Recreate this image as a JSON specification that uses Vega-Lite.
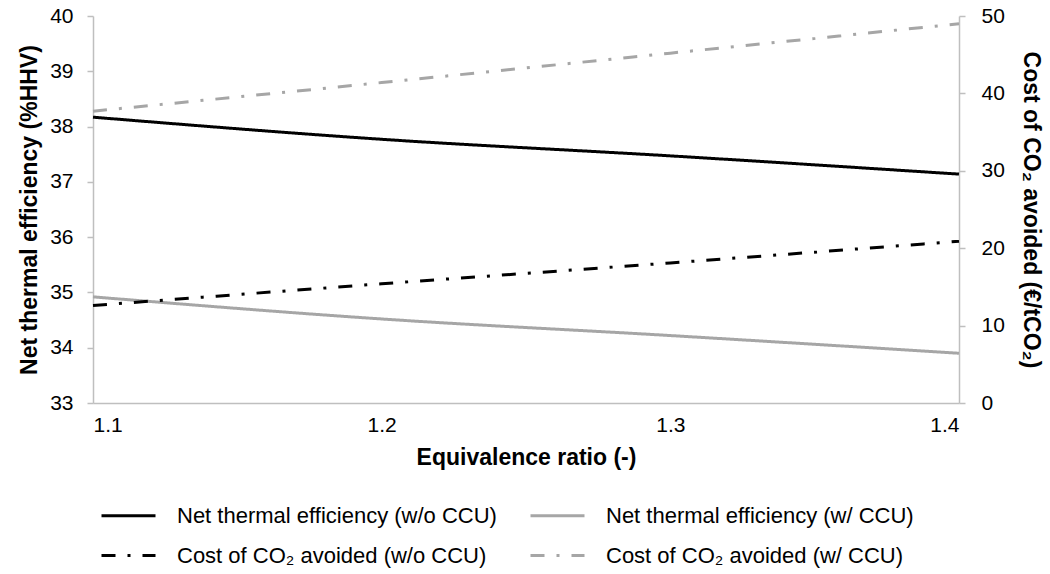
{
  "$schema": "https://vega.github.io/schema/vega-lite/v6.json",
  "width": 866,
  "height": 387,
  "autosize": {"type": "none"},
  "padding": {"left": 93, "top": 16, "right": 91, "bottom": 171},
  "background": "white",
  "config": {
    "view": {"stroke": null},
    "font": "Liberation Sans",
    "axis": {
      "grid": false,
      "domainColor": "#BFBFBF",
      "domainWidth": 1.5,
      "tickColor": "#BFBFBF",
      "tickWidth": 1.5,
      "labelColor": "black",
      "titleColor": "black",
      "labelFont": "Liberation Sans",
      "titleFont": "Liberation Sans",
      "labelFontSize": 21,
      "titleFontSize": 23,
      "titleFontWeight": "bold"
    },
    "legend": {
      "labelFont": "Liberation Sans",
      "labelFontSize": 22,
      "labelColor": "black"
    }
  },
  "data": {
    "values": [
      {"x": 1.1, "series": "Net thermal efficiency (w/o CCU)", "value": 38.17},
      {"x": 1.2, "series": "Net thermal efficiency (w/o CCU)", "value": 37.77},
      {"x": 1.3, "series": "Net thermal efficiency (w/o CCU)", "value": 37.47},
      {"x": 1.4, "series": "Net thermal efficiency (w/o CCU)", "value": 37.14},
      {"x": 1.1, "series": "Net thermal efficiency (w/ CCU)", "value": 34.92},
      {"x": 1.2, "series": "Net thermal efficiency (w/ CCU)", "value": 34.52},
      {"x": 1.3, "series": "Net thermal efficiency (w/ CCU)", "value": 34.22},
      {"x": 1.4, "series": "Net thermal efficiency (w/ CCU)", "value": 33.9},
      {"x": 1.1, "series": "Cost of CO₂ avoided (w/o CCU)", "value": 12.6},
      {"x": 1.2, "series": "Cost of CO₂ avoided (w/o CCU)", "value": 15.4},
      {"x": 1.3, "series": "Cost of CO₂ avoided (w/o CCU)", "value": 18.1},
      {"x": 1.4, "series": "Cost of CO₂ avoided (w/o CCU)", "value": 20.9},
      {"x": 1.1, "series": "Cost of CO₂ avoided (w/ CCU)", "value": 37.7},
      {"x": 1.2, "series": "Cost of CO₂ avoided (w/ CCU)", "value": 41.4},
      {"x": 1.3, "series": "Cost of CO₂ avoided (w/ CCU)", "value": 45.2},
      {"x": 1.4, "series": "Cost of CO₂ avoided (w/ CCU)", "value": 49.0}
    ]
  },
  "encoding": {
    "x": {
      "field": "x",
      "type": "quantitative",
      "scale": {"domain": [1.1, 1.4], "nice": false, "zero": false},
      "axis": {
        "title": "Equivalence ratio (-)",
        "values": [1.1, 1.2, 1.3, 1.4],
        "format": ".1f",
        "ticks": false,
        "labelPadding": 11,
        "titlePadding": 11
      }
    },
    "color": {
      "field": "series",
      "type": "nominal",
      "sort": null,
      "scale": {
        "domain": ["Net thermal efficiency (w/o CCU)", "Net thermal efficiency (w/ CCU)", "Cost of CO₂ avoided (w/o CCU)", "Cost of CO₂ avoided (w/ CCU)"],
        "range": ["#000000", "#A6A6A6", "#000000", "#A6A6A6"]
      },
      "legend": {
        "title": null,
        "orient": "none",
        "legendX": 7,
        "legendY": 471,
        "columns": 2,
        "direction": "horizontal",
        "symbolType": "stroke",
        "symbolSize": 2916,
        "symbolStrokeWidth": 3,
        "labelLimit": 500,
        "columnPadding": 27,
        "rowPadding": 0,
        "labelOffset": 20
      }
    },
    "strokeDash": {
      "field": "series",
      "type": "nominal",
      "sort": null,
      "scale": {
        "domain": ["Net thermal efficiency (w/o CCU)", "Net thermal efficiency (w/ CCU)", "Cost of CO₂ avoided (w/o CCU)", "Cost of CO₂ avoided (w/ CCU)"],
        "range": [[1, 0], [1, 0], [14, 12, 3, 12], [14, 12, 3, 12]]
      },
      "legend": {
        "title": null,
        "orient": "none",
        "legendX": 7,
        "legendY": 471,
        "columns": 2,
        "direction": "horizontal",
        "symbolType": "stroke",
        "symbolSize": 2916,
        "symbolStrokeWidth": 3,
        "labelLimit": 500,
        "columnPadding": 27,
        "rowPadding": 0,
        "labelOffset": 20
      }
    }
  },
  "layer": [
    {
      "transform": [{"filter": "indexof(datum.series, 'Net thermal') === 0"}],
      "mark": {"type": "line", "strokeWidth": 3, "interpolate": "monotone"},
      "encoding": {
        "y": {
          "field": "value",
          "type": "quantitative",
          "scale": {"domain": [33, 40], "nice": false, "zero": false},
          "axis": {
            "title": "Net thermal efficiency (%HHV)",
            "values": [33, 34, 35, 36, 37, 38, 39, 40],
            "tickSize": 6,
            "labelPadding": 14,
            "titlePadding": 8
          }
        }
      }
    },
    {
      "transform": [{"filter": "indexof(datum.series, 'Cost') === 0"}],
      "mark": {"type": "line", "strokeWidth": 3, "interpolate": "monotone"},
      "encoding": {
        "y": {
          "field": "value",
          "type": "quantitative",
          "scale": {"domain": [0, 50], "nice": false, "zero": false},
          "axis": {
            "orient": "right",
            "title": "Cost of CO₂ avoided (€/tCO₂)",
            "values": [0, 10, 20, 30, 40, 50],
            "tickSize": 6,
            "labelPadding": 16,
            "titlePadding": 14
          }
        }
      }
    }
  ],
  "resolve": {"scale": {"y": "independent"}}
}
